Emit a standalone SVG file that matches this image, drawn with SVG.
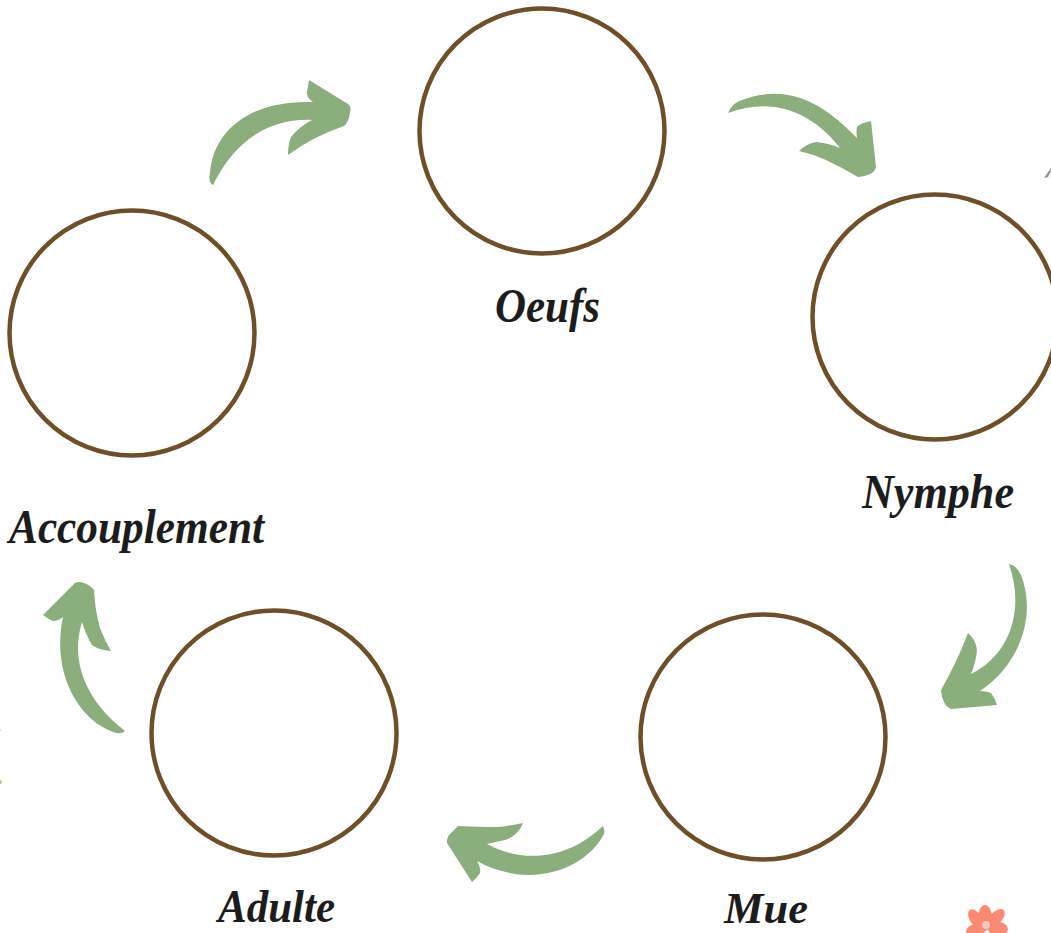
<svg xmlns="http://www.w3.org/2000/svg" width="1051" height="933" viewBox="0 0 1051 933">
<style>
.c{fill:#fff;stroke:#6f4f28;stroke-width:4.5}
.a{fill:#8aae7c}
.l{font-family:"Liberation Serif",serif;font-style:italic;font-weight:700;font-size:48px;fill:#1c1c1c;text-anchor:start}
.p{fill:#fb8a72}
</style>
<rect width="1051" height="933" fill="#fff"/>
<g id="node-oeufs"><circle class="c" cx="542" cy="131" r="122.5"/><text class="l" x="495" y="322" textLength="105" lengthAdjust="spacingAndGlyphs">Oeufs</text></g>
<g id="node-nymphe"><circle class="c" cx="935" cy="317" r="122.5"/><text class="l" x="862" y="508" textLength="152" lengthAdjust="spacingAndGlyphs">Nymphe</text></g>
<g id="node-mue"><circle class="c" cx="763" cy="737" r="122.5"/><text class="l" x="724" y="923" textLength="84" lengthAdjust="spacingAndGlyphs" style="font-size:44px">Mue</text></g>
<g id="node-adulte"><circle class="c" cx="274" cy="733" r="122.5"/><text class="l" x="218" y="922" textLength="117" lengthAdjust="spacingAndGlyphs" style="font-size:46px">Adulte</text></g>
<g id="node-accouplement"><circle class="c" cx="132" cy="333" r="122.5"/><text class="l" x="9" y="543" textLength="255" lengthAdjust="spacingAndGlyphs">Accouplement</text></g>
<g id="connectors">
<path class="a" d="M213 185Q208 183 210 172C214 130 250 100 313 102Q306 97 307 92L309 80L348 104Q352 107 350 112Q349 122 344 126Q312 137 288 155Q288 144 291 137Q300 126 312 120C270 118 235 140 213 185Z"/>
<path class="a" d="M728 113Q732 103 742 100C790 82 825 105 857 138Q856 132 857 127Q860 123 871 121L876 167Q875 172 870 174Q864 177 858 177Q843 168 826 160Q813 154 799 151Q806 144 816 142Q828 143 840 148C815 115 775 95 728 113Z"/>
<path class="a" d="M1009 564Q1016 565 1021 575C1035 610 1025 660 980 691Q986 691 991 693Q995 698 997 705L951 709Q946 707 944 702Q941 696 941 690Q957 662 968 633Q976 640 977 650Q976 662 971 674C1010 655 1025 610 1009 564Z"/>
<path class="a" d="M603 826Q605 830 604 834C585 870 530 890 477 861Q481 868 480 873Q477 878 472 882L447 843Q446 840 449 835L458 826Q480 827 497 827Q510 826 523 823Q520 831 513 836Q508 840 500 841L487 844C520 862 565 862 603 826Z"/>
<path class="a" d="M125 731Q122 734 117 733C85 725 50 680 63 617Q58 621 53 621Q48 619 43 615L75 583Q79 581 84 583Q90 585 94 590Q95 610 100 628Q105 641 111 651Q98 650 92 645Q86 635 82 622C70 660 85 700 125 731Z"/>
</g>
<g id="decor">
<path d="M1044 178L1051 168L1051 171L1048 177Z" fill="#8f8f8f"/>
<circle cx="0" cy="782" r="2" fill="#a8d08d"/>
<circle cx="0" cy="730" r="1" fill="#c8e0a8"/>
<ellipse class="p" cx="985" cy="918" rx="7" ry="13"/>
<ellipse class="p" cx="976" cy="919" rx="6" ry="11" transform="rotate(-35 976 919)"/>
<ellipse class="p" cx="996" cy="918" rx="6" ry="11" transform="rotate(45 996 918)"/>
<ellipse class="p" cx="976" cy="930" rx="10" ry="6" transform="rotate(-10 976 930)"/>
<ellipse class="p" cx="998" cy="929" rx="10" ry="7"/>
<circle cx="986" cy="925" r="4" fill="#fbc8c0"/>
</g>
</svg>
